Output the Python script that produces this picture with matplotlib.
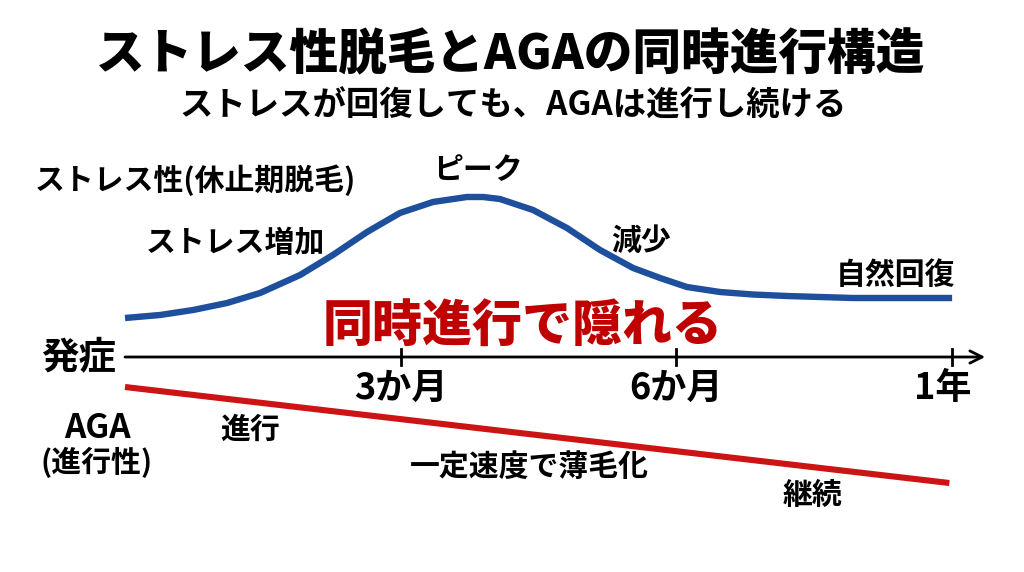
import numpy as np
import matplotlib.pyplot as plt

plt.rcParams['font.family'] = ['Noto Sans CJK JP', 'DejaVu Sans']

# -----------------------------
#  データ
# -----------------------------
# 時間軸（目盛り位置 0=発症, 1=3か月, 2=6か月, 3=1年）
tick_pos = [1, 2, 3]
tick_labels = ['3か月', '6か月', '1年']

# ストレス性脱毛（休止期脱毛）の推移
stress_t = [0.0, 0.127, 0.247, 0.370, 0.490, 0.635, 0.754, 0.878, 0.997,
            1.117, 1.240, 1.299, 1.360, 1.480, 1.603, 1.723, 1.843, 1.941,
            2.038, 2.158, 2.278, 2.401, 2.521, 2.641, 2.884, 3.0]
stress_v = [39, 42, 47, 54, 64, 82, 102, 125, 144,
            155, 160, 160, 158, 147, 129, 107, 89, 79,
            70, 65, 62.5, 61, 60, 59, 59, 59]

# AGA（進行性）の推移
aga_t = [0.0, 2.99]
aga_v = [-30, -126]

BLUE = '#1d4f9c'
RED = '#cc1414'

fig = plt.figure(figsize=(10.24, 5.72), dpi=100)
ax = fig.add_axes([0, 0, 1, 1])
ax.set_xlim(-0.4534, 3.2608)
ax.set_ylim(-215, 357)
ax.axis('off')


def fp(x, y):
    # ピクセル位置 -> 図の座標
    return x / 1024, 1 - y / 572


# -----------------------------
#  曲線
# -----------------------------
ax.plot(stress_t, stress_v, color=BLUE, lw=4.6, solid_capstyle='butt',
        solid_joinstyle='round')
ax.plot(aga_t, aga_v, color=RED, lw=4.4, solid_capstyle='butt')

# 時間軸
ax.annotate('', xy=(3.12, 0), xytext=(0, 0),
            arrowprops=dict(arrowstyle='->', lw=2, color='black',
                            mutation_scale=22, shrinkA=0, shrinkB=0))
for p in tick_pos:
    ax.plot([p, p], [-8, 8], color='black', lw=2)
# 「1年」は目盛りより少し左寄せ
label_shift = [0, 0, -0.035]
for p, lab, s in zip(tick_pos, tick_labels, label_shift):
    ax.text(p + s, -31, lab, ha='center', va='center', fontsize=26,
            fontweight='bold')

# -----------------------------
#  テキスト
# -----------------------------
fig.text(*fp(511, 55), 'ストレス性脱毛とAGAの同時進行構造', ha='center',
         va='center', fontsize=35, fontweight='black')
fig.text(*fp(513, 106), 'ストレスが回復しても、AGAは進行し続ける',
         ha='center', va='center', fontsize=24, fontweight='bold')

fig.text(*fp(35, 180), 'ストレス性(休止期脱毛)', ha='left', va='center',
         fontsize=21.5, fontweight='bold')
fig.text(*fp(478, 170), 'ピーク', ha='center', va='center', fontsize=21.5,
         fontweight='bold')
fig.text(*fp(235, 243), 'ストレス増加', ha='center', va='center',
         fontsize=21.5, fontweight='bold')
fig.text(*fp(641, 241), '減少', ha='center', va='center', fontsize=21.5,
         fontweight='bold')
fig.text(*fp(895, 275), '自然回復', ha='center', va='center', fontsize=21.5,
         fontweight='bold')
fig.text(*fp(523, 327), '同時進行で隠れる', ha='center', va='center',
         fontsize=36, fontweight='black', color='#c00000')

fig.text(*fp(79, 357), '発症', ha='center', va='center', fontsize=27,
         fontweight='bold')
fig.text(*fp(97, 428), 'AGA', ha='center', va='center', fontsize=24,
         fontweight='bold')
fig.text(*fp(97, 462), '(進行性)', ha='center', va='center', fontsize=21.5,
         fontweight='bold')
fig.text(*fp(250, 430), '進行', ha='center', va='center', fontsize=21.5,
         fontweight='bold')
fig.text(*fp(529, 467), '一定速度で薄毛化', ha='center', va='center',
         fontsize=21.5, fontweight='bold')
fig.text(*fp(812, 495), '継続', ha='center', va='center', fontsize=21.5,
         fontweight='bold')

fig.savefig('out.png', dpi=100, facecolor='white')
